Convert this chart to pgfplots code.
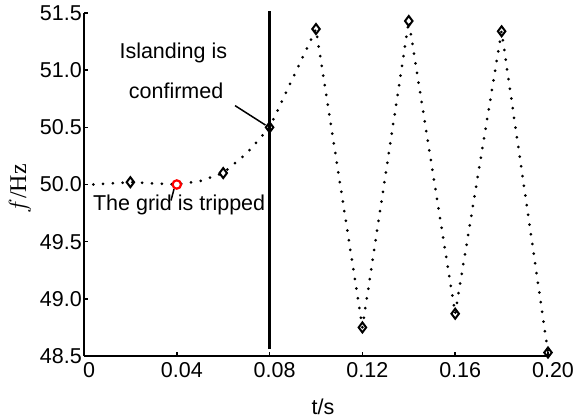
\documentclass[border=0pt]{standalone}
\usepackage{fontspec}
\setmainfont{Liberation Sans}
\newfontfamily\seriffont{Liberation Serif}
\usepackage{pgfplots}
\pgfplotsset{compat=1.18}
\begin{document}
\begin{tikzpicture}
\begin{axis}[
  at={(84bp,62bp)}, anchor=south west,
  scale only axis, width=464bp, height=343bp,
  xmin=0, xmax=0.2, ymin=48.5, ymax=51.5,
  axis x line*=bottom, axis y line*=left,
  axis line style={line width=2bp},
  tick style={line width=1.5bp, black},
  tick align=inside, major tick length=4bp,
  xtick={0,0.04,0.08,0.12,0.16,0.2},
  xticklabels={0,0.04,0.08,0.12,0.16,0.20},
  ytick={48.5,49,49.5,50,50.5,51,51.5},
  yticklabels={48.5,49.0,49.5,50.0,50.5,51.0,51.5},
  ticklabel style={font=\fontsize{21.5bp}{25bp}\selectfont},
  yticklabel style={inner sep=2bp},
  xticklabel style={yshift=-3bp, xshift=5bp},
  clip=false,
]
\addplot[black, line width=3bp, line cap=round, dash pattern=on 0pt off 9.8bp] coordinates {
 (0.004,50.0) (0.02,50.02) (0.04,50.0) (0.05,50.03) (0.06,50.1) (0.07,50.27) (0.08,50.5)
 (0.10,51.36) (0.12,48.75) (0.14,51.43) (0.16,48.87) (0.18,51.34) (0.20,48.53)
};
\addplot[only marks, black, mark=diamond, mark size=5bp, mark options={line width=2bp, fill=white}] coordinates {
 (0.02,50.02) (0.06,50.1) (0.08,50.5) (0.10,51.36) (0.12,48.75) (0.14,51.43) (0.16,48.87) (0.18,51.34) (0.20,48.53)
};
\addplot[only marks, red, mark=o, mark size=4.2bp, mark options={line width=2.2bp, fill=white}] coordinates {(0.04,50.0)};
\draw[line width=3bp] (axis cs:0.08,48.56) -- (axis cs:0.08,51.52);
\draw[line width=1.5bp] (axis cs:0.0651,50.69) -- (axis cs:0.0782,50.52);
\draw[line width=1.5bp] (axis cs:0.0388,49.96) -- (axis cs:0.0375,49.86);
\node[font=\fontsize{21.5bp}{25bp}\selectfont] at (axis cs:0.0385,51.15) {Islanding is};
\node[font=\fontsize{21.5bp}{25bp}\selectfont] at (axis cs:0.0397,50.82) {confirmed};
\node[font=\fontsize{21.5bp}{25bp}\selectfont] at (axis cs:0.041,49.825) {The grid is tripped};
\node[font=\fontsize{21.5bp}{25bp}\selectfont, anchor=base] at ([yshift=-58bp]rel axis cs:0.515,0) {t/s};
\node[font=\seriffont\fontsize{24bp}{28bp}\selectfont, rotate=90] at ([xshift=-64bp]rel axis cs:0,0.487) {$f$/Hz};
\end{axis}
\pgfresetboundingbox
\path (0,0) rectangle (578bp,418bp);
\end{tikzpicture}
\end{document}
